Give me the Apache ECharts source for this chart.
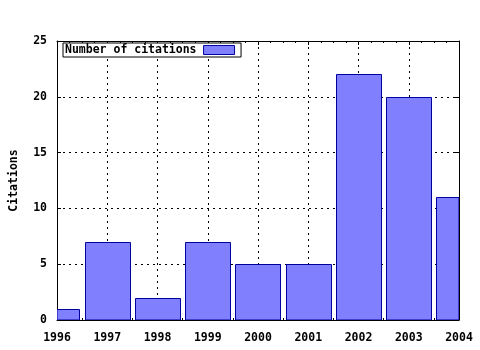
<!DOCTYPE html>
<html>
<head>
<meta charset="utf-8">
<script src="https://cdn.jsdelivr.net/npm/echarts@6/dist/echarts.min.js"></script>
<style>html,body{margin:0;padding:0;background:#fff}#c{width:480px;height:350px}</style>
</head>
<body>
<div id="c"></div>
<script>
const years = [1996, 1997, 1998, 1999, 2000, 2001, 2002, 2003, 2004];
const citations = [1, 7, 2, 7, 5, 5, 22, 20, 11];
const seriesName = 'Number of citations';
const yAxisTitle = 'Citations';
const barWidthYears = 0.9;

const FONT = '"DejaVu Sans Mono", "Liberation Mono", monospace';
const chart = echarts.init(document.getElementById('c'), null, {renderer: 'canvas'});
const data = years.map((y, i) => [y, citations[i]]);
const tickText = {fontFamily: FONT, fontWeight: 'bold', fontSize: 11.5, color: '#000'};

chart.setOption({
  animation: false,
  backgroundColor: '#fff',
  grid: {left: 57, right: 21, top: 41, bottom: 30, containLabel: false, outerBoundsMode: 'none'},
  legend: {
    left: 63, top: 43,
    align: 'right',
    orient: 'horizontal',
    backgroundColor: '#fff',
    borderColor: '#000', borderWidth: 1,
    padding: [1, 6, 1, 2],
    itemWidth: 31, itemHeight: 9,
    z: 10,
    textStyle: {fontFamily: FONT, fontWeight: 'bold', fontSize: 11.5, color: '#000', padding: [0, 2, 0, 0]},
    data: [{name: seriesName, icon: 'rect', itemStyle: {color: '#8080ff', borderColor: '#0000a0', borderWidth: 1}}]
  },
  xAxis: [{
    type: 'value', min: years[0], max: years[years.length - 1], interval: 1, position: 'bottom',
    axisLine: {show: true, onZero: false, lineStyle: {color: '#000', width: 1}},
    axisTick: {show: true, inside: true, length: 4, lineStyle: {color: '#000'}},
    minorTick: {show: true, splitNumber: 4, length: 2, lineStyle: {color: '#000'}},
    axisLabel: Object.assign({margin: 12, showMinLabel: true, showMaxLabel: true, formatter: v => String(v)}, tickText),
    splitLine: {show: true, lineStyle: {color: '#000', type: [2, 4], width: 1}}
  }, {
    type: 'value', min: years[0], max: years[years.length - 1], interval: 1, position: 'top',
    axisLine: {show: true, onZero: false, lineStyle: {color: '#000', width: 1}},
    axisTick: {show: true, inside: true, length: 4, lineStyle: {color: '#000'}},
    minorTick: {show: true, splitNumber: 4, length: 2, lineStyle: {color: '#000'}},
    axisLabel: {show: false},
    splitLine: {show: false}
  }],
  yAxis: [{
    type: 'value', min: 0, max: 25, interval: 5, position: 'left',
    name: yAxisTitle, nameLocation: 'middle', nameGap: 37, nameRotate: 90,
    nameTextStyle: {fontFamily: FONT, fontWeight: 'bold', fontSize: 11.5, color: '#000'},
    axisLine: {show: true, onZero: false, lineStyle: {color: '#000', width: 1}},
    axisTick: {show: true, inside: true, length: 4, lineStyle: {color: '#000'}},
    axisLabel: Object.assign({margin: 10, showMinLabel: true, showMaxLabel: true}, tickText),
    splitLine: {show: true, lineStyle: {color: '#000', type: [2, 4], width: 1}}
  }, {
    type: 'value', min: 0, max: 25, interval: 5, position: 'right',
    axisLine: {show: true, onZero: false, lineStyle: {color: '#000', width: 1}},
    axisTick: {show: true, inside: true, length: 4, lineStyle: {color: '#000'}},
    axisLabel: {show: false},
    splitLine: {show: false}
  }],
  series: [{
    name: seriesName,
    type: 'custom',
    xAxisIndex: 0, yAxisIndex: 0,
    data: data,
    clip: true,
    z: 3,
    itemStyle: {color: '#8080ff', borderColor: '#0000a0', borderWidth: 1},
    renderItem: function (params, api) {
      const x = api.value(0), v = api.value(1);
      const p0 = api.coord([x - barWidthYears / 2, v]);
      const p1 = api.coord([x + barWidthYears / 2, 0]);
      const rect = echarts.graphic.clipRectByRect(
        {x: Math.round(p0[0]) + 0.5, y: Math.round(p0[1]) + 0.5, width: Math.round(p1[0] - p0[0]), height: Math.round(p1[1] - p0[1])},
        {x: params.coordSys.x, y: params.coordSys.y, width: params.coordSys.width, height: params.coordSys.height}
      );
      if (!rect) return null;
      return {
        type: 'rect',
        shape: rect,
        style: {fill: '#8080ff', stroke: '#0000a0', lineWidth: 1}
      };
    }
  }]
});
</script>
</body>
</html>
